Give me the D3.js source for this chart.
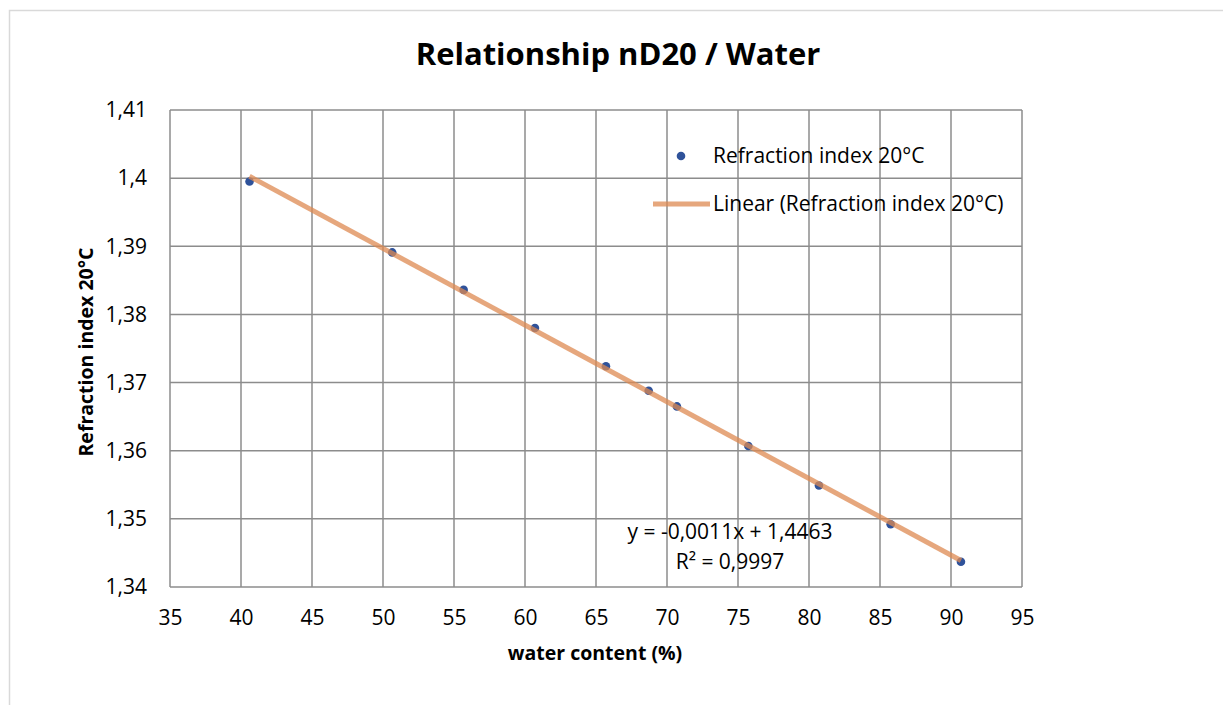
<!DOCTYPE html>
<html>
<head>
<meta charset="utf-8">
<script src="https://cdn.jsdelivr.net/npm/d3@7"></script>
<style>
    body { margin: 0; background: #fff; }
    svg { display: block; font-family: "Open Sans", Carlito, Calibri, sans-serif; }
</style>
</head>
<body>
<script>
// values
const waterContent = [40.6, 50.65, 55.68, 60.7, 65.7, 68.71, 70.7, 75.73, 80.7, 85.75, 90.7];
const refractionIndex = [1.3995, 1.3891, 1.3836, 1.3780, 1.3724, 1.3688, 1.3665, 1.3607, 1.3549, 1.3492, 1.3437];
const xTicks = [35, 40, 45, 50, 55, 60, 65, 70, 75, 80, 85, 90, 95];
const yTicks = [1.34, 1.35, 1.36, 1.37, 1.38, 1.39, 1.4, 1.41];
const equationText = ["y = -0,0011x + 1,4463", "R² = 0,9997"];
const seriesName = "Refraction index 20°C";

const width = 1223;
const height = 705;
const margin = { left: 170, right: 201, top: 110, bottom: 118 };

const chartwidth = width - margin.left - margin.right;
const chartheight = height - margin.top - margin.bottom;

const data = waterContent.map((w, i) => ({ x: w, y: refractionIndex[i] }));

// least squares trend line
const mx = d3.mean(data, d => d.x);
const my = d3.mean(data, d => d.y);
const slope = d3.sum(data, d => (d.x - mx) * (d.y - my)) / d3.sum(data, d => (d.x - mx) ** 2);
const intercept = my - slope * mx;
const xExt = d3.extent(data, d => d.x);
const trend = xExt.map(v => ({ x: v, y: intercept + slope * v }));

const x = d3.scaleLinear().domain([35, 95]).range([0, chartwidth]);
const y = d3.scaleLinear().domain([1.34, 1.41]).range([chartheight, 0]);

const comma = v => String(+v.toFixed(2)).replace('.', ',');

const fontSize = 21;
const trendColor = "#de8a52";
const dotColor = "#2f529a";

const svg = d3.select("body").append("svg")
    .attr("width", width)
    .attr("height", height);

// chart area border (right and bottom fall outside the picture)
svg.append("rect")
    .attr("x", 9.5)
    .attr("y", 10.5)
    .attr("width", width + 20)
    .attr("height", height + 20)
    .attr("fill", "#fff")
    .attr("stroke", "#d9d9d9")
    .attr("stroke-width", 1.5);

svg.append("text")
    .attr("x", 618)
    .attr("y", 65)
    .attr("text-anchor", "middle")
    .attr("font-size", 31)
    .attr("font-weight", "bold")
    .text("Relationship nD20 / Water");

const g = svg.append("g")
    .attr("transform", `translate(${[margin.left, margin.top]})`);

const gridColor = "#8c8c8c";

g.selectAll(".vgrid")
    .data(xTicks)
    .join("line")
    .attr("class", "vgrid")
    .attr("x1", d => x(d))
    .attr("x2", d => x(d))
    .attr("y1", 0)
    .attr("y2", chartheight)
    .attr("stroke", gridColor)
    .attr("stroke-width", 1.5);

g.selectAll(".hgrid")
    .data(yTicks)
    .join("line")
    .attr("class", "hgrid")
    .attr("x1", 0)
    .attr("x2", chartwidth)
    .attr("y1", d => y(d))
    .attr("y2", d => y(d))
    .attr("stroke", gridColor)
    .attr("stroke-width", 1.5);

// tick labels
const xAxis = g.append("g")
    .attr("transform", `translate(0, ${chartheight})`)
    .call(d3.axisBottom(x).tickValues(xTicks).tickSize(0).tickPadding(23).tickFormat(d => d));
const yAxis = g.append("g")
    .call(d3.axisLeft(y).tickValues(yTicks).tickSize(0).tickPadding(23).tickFormat(comma));
[xAxis, yAxis].forEach(a => {
    a.select(".domain").remove();
    a.attr("font-family", null).attr("font-size", null);
    a.selectAll("text")
        .attr("font-size", fontSize)
        .attr("fill", "#000");
});

g.selectAll(".dot")
    .data(data)
    .join("circle")
    .attr("class", "dot")
    .attr("cx", d => x(d.x))
    .attr("cy", d => y(d.y))
    .attr("r", 4.3)
    .attr("fill", dotColor);

g.append("path")
    .datum(trend)
    .attr("fill", "none")
    .attr("stroke", trendColor)
    .attr("stroke-opacity", 0.75)
    .attr("stroke-width", 5)
    .attr("d", d3.line().x(d => x(d.x)).y(d => y(d.y)));

// equation label
g.selectAll(".eq")
    .data(equationText)
    .join("text")
    .attr("class", "eq")
    .attr("x", 560)
    .attr("y", (_, i) => 429 + i * 30)
    .attr("text-anchor", "middle")
    .attr("font-size", fontSize)
    .text(d => d);

// axis titles
svg.append("text")
    .attr("x", 595)
    .attr("y", 660)
    .attr("text-anchor", "middle")
    .attr("font-size", 19.5)
    .attr("font-weight", "bold")
    .text("water content (%)");

svg.append("text")
    .attr("transform", "translate(93, 352) rotate(-90)")
    .attr("text-anchor", "middle")
    .attr("font-size", 19.5)
    .attr("font-weight", "bold")
    .text(seriesName);

// legend
const legend = svg.append("g");
legend.append("circle")
    .attr("cx", 681)
    .attr("cy", 156)
    .attr("r", 4.3)
    .attr("fill", dotColor);
legend.append("text")
    .attr("x", 713)
    .attr("y", 163)
    .attr("font-size", fontSize)
    .text(seriesName);
legend.append("line")
    .attr("x1", 653)
    .attr("x2", 710)
    .attr("y1", 204)
    .attr("y2", 204)
    .attr("stroke", trendColor)
    .attr("stroke-opacity", 0.75)
    .attr("stroke-width", 5);
legend.append("text")
    .attr("x", 713)
    .attr("y", 211)
    .attr("font-size", fontSize)
    .text(`Linear (${seriesName})`);
</script>
</body>
</html>
